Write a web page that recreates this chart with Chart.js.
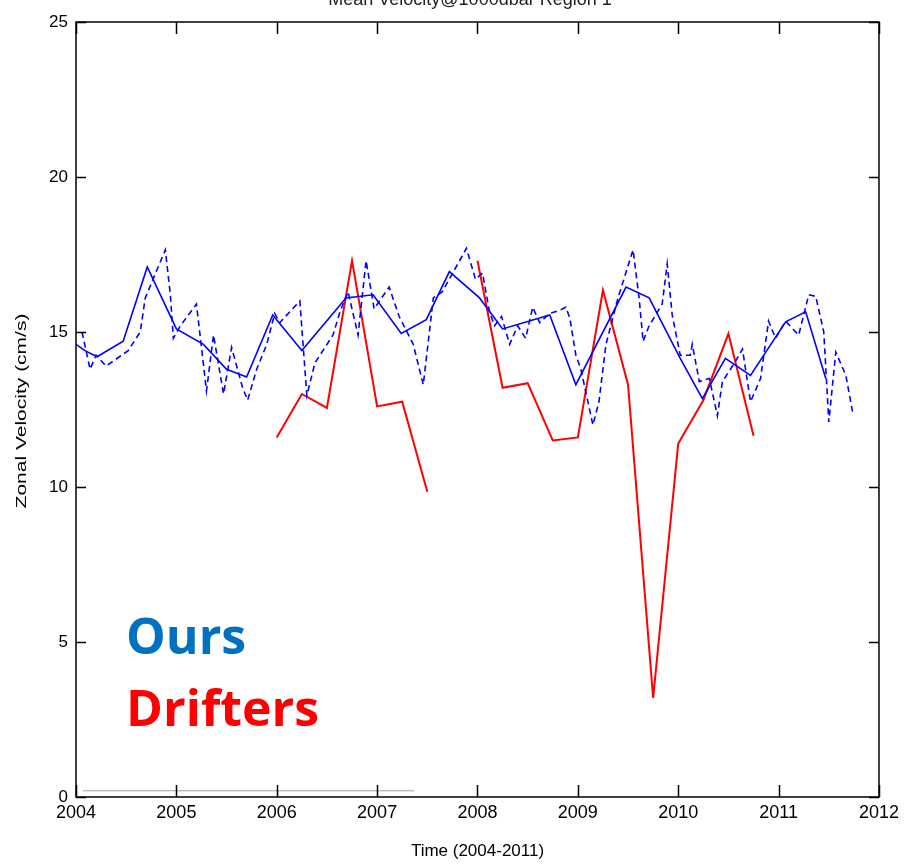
<!DOCTYPE html>
<html>
<head>
<meta charset="utf-8">
<script src="https://cdn.jsdelivr.net/npm/chart.js@4"></script>
<style>
  body { margin: 0; background: #fff; }
  canvas { display: block; }
</style>
</head>
<body>
<canvas id="velChart" width="904" height="865"></canvas>
<script>
// Ours – smoothed (solid)
const solidYears = [2004.0, 2004.09, 2004.21, 2004.47, 2004.71, 2005.0, 2005.27, 2005.5, 2005.7, 2005.96,
    2006.25, 2006.69, 2006.96, 2007.24, 2007.49, 2007.72, 2008.02, 2008.25, 2008.72, 2008.98,
    2009.48, 2009.71, 2010.02, 2010.24, 2010.47, 2010.72, 2011.07, 2011.27, 2011.47];
const solidVals = [14.6, 14.4, 14.2, 14.7, 17.1, 15.1, 14.6, 13.8, 13.55, 15.55,
    14.4, 16.1, 16.2, 14.95, 15.4, 16.95, 16.1, 15.1, 15.55, 13.3,
    16.45, 16.1, 14.15, 12.85, 14.15, 13.6, 15.33, 15.65, 13.5];

// Ours – raw (dashed)
const dashedYears = [2004.06, 2004.14, 2004.2, 2004.3, 2004.52, 2004.64, 2004.69, 2004.89, 2004.94, 2004.97,
    2005.04, 2005.2, 2005.3, 2005.37, 2005.47, 2005.55, 2005.66, 2005.71, 2005.8, 2005.9,
    2005.98, 2006.03, 2006.23, 2006.3, 2006.38, 2006.56, 2006.63, 2006.71, 2006.81, 2006.89,
    2006.97, 2007.12, 2007.22, 2007.36, 2007.46, 2007.56, 2007.65, 2007.89, 2007.98, 2008.05,
    2008.12, 2008.17, 2008.24, 2008.32, 2008.4, 2008.48, 2008.55, 2008.62, 2008.72, 2008.82,
    2008.88, 2008.92, 2008.98, 2009.03, 2009.15, 2009.21, 2009.28, 2009.4, 2009.55, 2009.61,
    2009.65, 2009.71, 2009.84, 2009.89, 2009.94, 2010.02, 2010.12, 2010.14, 2010.21, 2010.31,
    2010.39, 2010.44, 2010.57, 2010.64, 2010.72, 2010.82, 2010.9, 2010.97, 2011.07, 2011.2,
    2011.3, 2011.37, 2011.45, 2011.5, 2011.57, 2011.67, 2011.74];
const dashedVals = [15.0, 13.8, 14.25, 13.9, 14.4, 15.0, 16.1, 17.65, 16.2, 14.8,
    15.2, 15.9, 13.1, 14.9, 13.0, 14.5, 13.2, 12.8, 13.8, 14.6,
    15.6, 15.3, 16.0, 12.95, 14.0, 14.9, 15.65, 16.3, 14.9, 17.3,
    15.75, 16.45, 15.5, 14.6, 13.3, 16.1, 16.3, 17.7, 16.7, 16.9,
    15.65, 15.2, 15.5, 14.6, 15.2, 14.8, 15.8, 15.3, 15.6, 15.7,
    15.8, 15.45, 14.25, 13.8, 12.0, 12.75, 14.6, 16.1, 17.65, 16.1,
    14.7, 15.2, 15.9, 17.2, 15.55, 14.25, 14.25, 14.6, 13.4, 13.5,
    12.3, 13.4, 14.05, 14.45, 12.75, 13.5, 15.35, 14.8, 15.35, 14.9,
    16.2, 16.15, 15.0, 12.1, 14.35, 13.6, 12.37];

// Drifters (quarterly, gap in late 2007)
const drifterYears = [2006.0, 2006.25, 2006.5, 2006.75, 2007.0, 2007.25, 2007.5, 2007.75,
    2008.0, 2008.25, 2008.5, 2008.75, 2009.0, 2009.25, 2009.5, 2009.75, 2010.0, 2010.25, 2010.5, 2010.75];
const drifterVals = [11.6, 13.0, 12.55, 17.3, 12.6, 12.75, 9.85, null,
    17.3, 13.2, 13.35, 11.5, 11.6, 16.35, 13.3, 3.2, 11.4, 12.8, 14.95, 11.65];

// faint underline left over on the slide
const underlineYears = [2004.07, 2007.37];
const underlineVals = [0.2, 0.2];

const xTicks = [2004, 2005, 2006, 2007, 2008, 2009, 2010, 2011, 2012];
const yTicks = [0, 5, 10, 15, 20, 25];

const pts = (xs, ys) => xs.map((x, i) => ({ x: x, y: ys[i] }));
const fam = "'Liberation Sans', Arial, sans-serif";

// box + inward ticks (matlab style), titles and slide labels
const boxPlugin = {
    id: 'box',
    afterDraw(chart) {
        const c = chart.ctx, a = chart.chartArea;
        const xs = chart.scales.x, ys = chart.scales.y;
        c.save();
        c.strokeStyle = '#000';
        c.lineWidth = 1.5;
        c.strokeRect(a.left, a.top, a.right - a.left, a.bottom - a.top);
        c.beginPath();
        xTicks.forEach(v => {
            const px = Math.round(xs.getPixelForValue(v)) + 0.5;
            c.moveTo(px, a.bottom); c.lineTo(px, a.bottom - 12);
            c.moveTo(px, a.top); c.lineTo(px, a.top + 12);
        });
        yTicks.forEach(v => {
            const py = Math.round(ys.getPixelForValue(v)) + 0.5;
            c.moveTo(a.left, py); c.lineTo(a.left + 10, py);
            c.moveTo(a.right, py); c.lineTo(a.right - 10, py);
        });
        c.stroke();

        // cut-off title
        c.fillStyle = '#222';
        c.font = '18px ' + fam;
        c.textAlign = 'center';
        c.textBaseline = 'alphabetic';
        c.fillText('Mean Velocity@1000dbar Region 1', 470, 5);

        // y title, stretched along its length like the slide
        c.save();
        c.translate(22, 411);
        c.rotate(-Math.PI / 2);
        c.scale(1.4, 1);
        c.font = '15px ' + fam;
        c.fillStyle = '#000';
        c.textBaseline = 'middle';
        c.fillText('Zonal Velocity (cm/s)', 0, 0);
        c.restore();

        c.textAlign = 'left';
        c.font = "bold 50px 'Open Sans', sans-serif";
        c.fillStyle = 'rgb(0,112,192)';
        c.fillText('Ours', 126, 654);
        c.fillStyle = '#ff0000';
        c.fillText('Drifters', 126, 726);
        c.restore();
    }
};

new Chart(document.getElementById('velChart').getContext('2d'), {
    type: 'line',
    data: {
        datasets: [
            { label: 'underline', data: pts(underlineYears, underlineVals), borderColor: '#a0a0a0', borderWidth: 1 },
            { label: 'Ours (raw)', data: pts(dashedYears, dashedVals), borderColor: '#0000ff', borderWidth: 1.6, borderDash: [6, 4] },
            { label: 'Ours', data: pts(solidYears, solidVals), borderColor: '#0000ff', borderWidth: 1.6 },
            { label: 'Drifters', data: pts(drifterYears, drifterVals), borderColor: '#ff0000', borderWidth: 2, spanGaps: false }
        ]
    },
    options: {
        responsive: false,
        animation: false,
        elements: { point: { radius: 0 }, line: { tension: 0, fill: false } },
        layout: { padding: { top: 22, right: 24, left: 0, bottom: 0 } },
        plugins: { legend: { display: false }, tooltip: { enabled: false } },
        scales: {
            x: {
                type: 'linear', min: 2004, max: 2012,
                afterFit: s => { s.height = 68; },
                afterBuildTicks: s => { s.ticks = xTicks.map(v => ({ value: v })); },
                grid: { display: false, drawTicks: false },
                border: { display: false },
                ticks: { color: '#000', font: { family: fam, size: 18 }, padding: 5, maxRotation: 0, callback: v => String(v) },
                title: { display: true, text: 'Time (2004-2011)', color: '#000', font: { family: fam, size: 17 }, padding: { top: 0, bottom: 3 } }
            },
            y: {
                min: 0, max: 25,
                afterFit: s => { s.width = 76; },
                afterBuildTicks: s => { s.ticks = yTicks.map(v => ({ value: v })); },
                grid: { display: false, drawTicks: false },
                border: { display: false },
                ticks: { color: '#000', font: { family: fam, size: 17 }, padding: 8 }
            }
        }
    },
    plugins: [boxPlugin]
});
</script>
</body>
</html>
